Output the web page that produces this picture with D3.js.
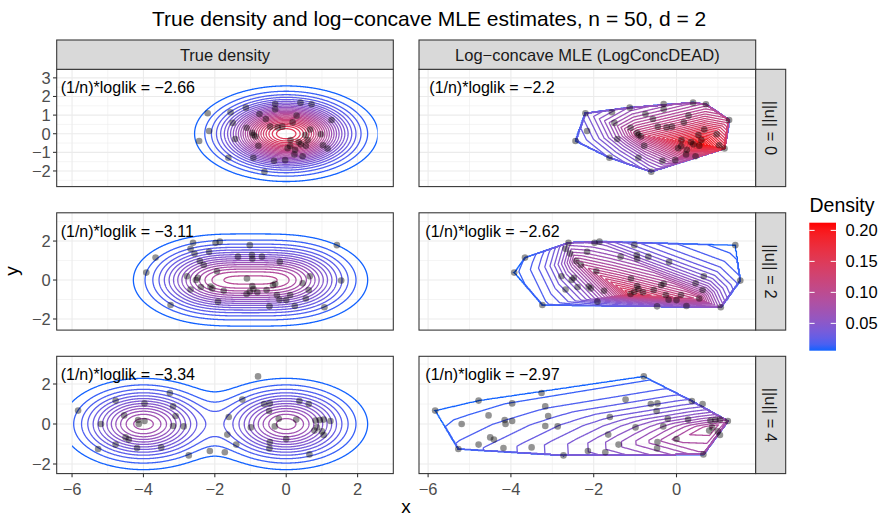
<!DOCTYPE html>
<html><head><meta charset="utf-8">
<script src="https://cdn.jsdelivr.net/npm/d3@7"></script>
<style>body{margin:0;background:#fff}svg{display:block}text{font-family:"Liberation Sans",Arial,sans-serif}</style>
</head><body><svg id="c" width="883" height="516"></svg>
<script>
// ---------------- data ----------------
const chartTitle = "True density and log\u2212concave MLE estimates, n = 50, d = 2";
const colLabels = ["True density", "Log\u2212concave MLE (LogConcDEAD)"];
const rowLabels = ["||u|| = 0", "||u|| = 2", "||u|| = 4"];
const loglikTrue = ["\u22122.66", "\u22123.11", "\u22123.34"];
const loglikMLE = ["\u22122.2", "\u22122.62", "\u22122.97"];
// mixture component means of the true densities (identity covariance, equal weights)
const trueMeans = [[[0,0],[0,0]], [[0,0],[-2,0]], [[0,0],[-4,0]]];

const points0 = [[-2.20,1.10],[-2.16,0.15],[-2.44,-0.39],[-1.62,-1.29],[-1.56,1.15],[-1.13,1.40],[-1.11,0.32],[-1.50,0.58],
 [-1.43,-0.28],[-0.92,-0.07],[-0.86,-0.15],[-0.78,-0.65],[-0.92,-1.29],[-0.75,1.06],[-0.57,0.79],[-0.45,0.38],[-0.31,1.60],
 [-0.31,1.31],[-0.24,0.34],[-0.11,0.38],[0.18,0.61],[0.29,0.97],[0.40,1.67],[0.71,1.58],[1.27,0.74],[0.67,0.23],[0.53,-0.07],
 [0.60,-0.34],[0.55,-0.64],[0.41,-0.57],[0.97,-0.03],[1.03,-0.62],[1.16,-0.79],[0.11,-0.66],[0.25,-0.86],[0.23,-1.11],[0.46,-1.21],
 [-0.03,-1.42],[-0.34,-1.45],[-0.61,-2.04],[0.04,-0.78],[0.12,-0.34],[0.35,-0.45],[-0.95,0.05]];
const points1 = [[-3.92,0.38],[-3.66,1.15],[-3.24,-1.28],[-2.61,1.91],[-2.68,1.60],[-2.57,1.36],[-2.42,0.97],[-2.31,0.77],
 [-2.16,1.45],[-1.98,1.91],[-1.86,1.97],[-1.94,0.45],[-2.78,0.19],[-2.48,0.12],[-2.53,0.0],[-2.68,-0.49],[-2.39,-0.36],[-2.12,-0.33],
 [-2.07,-0.43],[-1.75,-0.55],[-1.91,-1.11],[-1.02,1.79],[-1.35,1.20],[-0.96,1.28],[-0.95,1.09],[-0.68,1.20],[-0.18,0.93],
 [-1.10,0.08],[-0.95,-0.31],[-0.92,-0.46],[-1.11,-0.72],[-1.02,-0.60],[-0.81,-0.63],[-0.55,-0.51],[-0.37,-0.27],[-0.31,-0.19],
 [-0.26,-0.77],[-0.19,-1.01],[0.00,-1.03],[0.11,-0.77],[-0.47,-1.35],[0.24,-1.33],[0.55,-0.95],[0.66,0.19],[0.46,-0.17],
 [0.63,-0.51],[1.42,1.79],[1.54,-0.03],[1.07,-1.40]];
const points2 = [[-5.83,0.67],[-5.27,-1.25],[-5.19,0.00],[-4.78,1.17],[-4.78,-1.03],[-4.50,-0.67],[-4.41,-0.78],[-4.18,-1.20],
 [-4.54,0.43],[-4.13,0.00],[-3.97,1.03],[-4.15,0.20],[-3.97,0.15],[-3.50,-1.17],[-3.26,1.55],[-3.17,0.88],[-3.10,0.40],[-3.17,-0.10],
 [-2.87,-0.12],[-2.73,-1.57],[-2.14,-1.35],[-1.72,-1.41],[-1.65,-0.53],[-1.61,0.35],[-1.40,-1.03],[-1.23,1.22],[-0.79,2.38],
 [-0.62,1.00],[-0.46,1.03],[-0.48,0.65],[-0.99,-0.17],[-0.32,-0.12],[-0.21,0.26],[0.00,-0.75],[-0.47,-1.22],[-0.46,-0.90],
 [0.28,0.22],[0.37,1.15],[0.63,1.00],[0.65,-1.52],[0.82,0.17],[0.86,-0.17],[0.94,0.20],[1.05,0.22],[1.24,0.15],[1.00,-0.37],
 [0.79,-0.33],[1.05,-0.55]];

// log-concave MLE read as tent poles: [x, y, density]
const mlePoles0 = [[-2.20,1.10,0.040],[-2.44,-0.39,0.022],[-1.62,-1.29,0.030],[-0.61,-2.04,0.045],[1.16,-0.79,0.170],
 [1.27,0.74,0.110],[0.71,1.58,0.085],[0.40,1.67,0.075],[-1.13,1.40,0.060],[0.62,-0.55,0.212],[-0.90,-0.05,0.120]];
const mlePoles1 = [[-3.92,0.38,0.010],[-3.66,1.15,0.012],[-2.61,1.91,0.055],[-1.86,1.97,0.050],[1.42,1.79,0.008],
 [1.54,-0.03,0.020],[1.07,-1.40,0.060],[0.24,-1.33,0.050],[-0.47,-1.35,0.045],[-3.24,-1.28,0.015],
 [-2.42,0.97,0.090],[-1.11,-0.72,0.150],[0.55,-0.95,0.110]];
const mlePoles2 = [[-5.83,0.67,0.008],[-4.78,1.17,0.009],[-0.79,2.38,0.010],[0.37,1.15,0.030],[1.24,0.15,0.080],
 [0.65,-1.52,0.075],[-2.73,-1.57,0.040],[-5.27,-1.25,0.020],[-5.19,0.0,0.014],[-3.10,0.40,0.022],[-1.61,0.35,0.032],
 [0.28,0.22,0.050],[0.86,-0.17,0.095],[0.00,-0.75,0.085],[-1.40,-1.03,0.055]];

const pointsByRow = [points0, points1, points2];
const mlePoles = [mlePoles0, mlePoles1, mlePoles2];

const contourStep = 0.0059;          // contour bin width
const colorDomain = [0.0059, 0.2124];
const legendTicks = [0.05, 0.10, 0.15, 0.20];
const xMajor = [[-6,-4,-2,0,2], [-6,-4,-2,0]];
const xMinor = [[-5,-3,-1,1], [-5,-3,-1,1]];
const yMajor = [[-2,-1,0,1,2,3], [-2,0,2], [-2,0,2]];
const yMinor = [[-2.5,-1.5,-0.5,0.5,1.5,2.5], [-1,1,3], [-1,1,3]];

// ---------------- layout ----------------
const colX = [[56.7,393.3],[419,755.7]];
const rowTop = [69.3, 212.8, 356.3], PH = 117.3;
const xDomains = [[-6.43,3.0],[-6.22,1.913]];
const yDomains = [[-2.84,3.46],[-2.57,3.45],[-2.48,3.385]];
const trueGridX = [-6, 2.56];

const svg = d3.select("#c");
const fmt = v => (v < 0 ? "\u2212" + Math.abs(v) : String(v));
const levels = d3.range(1, 37).map(k => k * contourStep);
const color = d3.scaleLinear().domain(colorDomain).range(["#1262ff", "#ff0000"]).interpolate(d3.interpolateLab).clamp(true);
const defs = svg.append("defs");

svg.append("text").attr("x", 152).attr("y", 26).attr("font-size", 21).text(chartTitle);

function trueDensity(means, x, y) {
  let s = 0;
  for (const m of means) { const dx = x - m[0], dy = y - m[1]; s += Math.exp(-0.5 * (dx*dx + dy*dy)); }
  return s / means.length / (2 * Math.PI);
}

function tentGrid(poles, x0, y0, d, nx, ny) {
  const tris = [];
  const n = poles.length;
  for (let a = 0; a < n; a++) for (let b = a+1; b < n; b++) for (let c = b+1; c < n; c++) {
    const A = poles[a], B = poles[b], C = poles[c];
    const v0x = B[0]-A[0], v0y = B[1]-A[1], v1x = C[0]-A[0], v1y = C[1]-A[1];
    const det = v0x*v1y - v0y*v1x;
    if (Math.abs(det) < 1e-9) continue;
    tris.push([A[0], A[1], v0x, v0y, v1x, v1y, det, Math.log(A[2]), Math.log(B[2]), Math.log(C[2])]);
  }
  const vals = new Float64Array(nx*ny);
  for (let j = 0; j < ny; j++) for (let i = 0; i < nx; i++) {
    const x = x0 + i*d, y = y0 + j*d;
    let best = -Infinity;
    for (const t of tris) {
      const v2x = x - t[0], v2y = y - t[1];
      const u = (v2x*t[5] - v2y*t[4]) / t[6];
      if (u < -1e-9) continue;
      const v = (t[2]*v2y - t[3]*v2x) / t[6];
      if (v < -1e-9 || u + v > 1 + 1e-9) continue;
      const h = (1-u-v)*t[7] + u*t[8] + v*t[9];
      if (h > best) best = h;
    }
    vals[j*nx + i] = best === -Infinity ? 0 : Math.exp(best);
  }
  return vals;
}

function drawContours(g, vals, nx, ny, x0, y0, d, xs, ys) {
  const proj = d3.geoTransform({ point(px, py) { this.stream.point(xs(x0 + (px-0.5)*d), ys(y0 + (py-0.5)*d)); } });
  const path = d3.geoPath(proj);
  const cs = d3.contours().size([nx, ny]).thresholds(levels)(vals);
  g.selectAll("path.ct").data(cs.filter(c => c.coordinates.length)).join("path")
    .attr("class", "ct").attr("d", path).attr("fill", "none")
    .attr("stroke", c => color(c.value)).attr("stroke-width", 1.3);
}

for (let r = 0; r < 3; r++) {
  const ys = d3.scaleLinear().domain(yDomains[r]).range([rowTop[r] + PH, rowTop[r]]);
  for (let c = 0; c < 2; c++) {
    const xs = d3.scaleLinear().domain(xDomains[c]).range(colX[c]);
    const px0 = colX[c][0], pw = colX[c][1] - colX[c][0];
    const g = svg.append("g");
    g.append("rect").attr("x", px0).attr("y", rowTop[r]).attr("width", pw).attr("height", PH).attr("fill", "#fff");
    const gl = g.append("g").attr("stroke", "#EBEBEB");
    xMinor[c].forEach(v => gl.append("line").attr("x1", xs(v)).attr("x2", xs(v)).attr("y1", rowTop[r]).attr("y2", rowTop[r]+PH).attr("stroke-width", 0.55));
    yMinor[r].forEach(v => gl.append("line").attr("y1", ys(v)).attr("y2", ys(v)).attr("x1", px0).attr("x2", px0+pw).attr("stroke-width", 0.55));
    xMajor[c].forEach(v => gl.append("line").attr("x1", xs(v)).attr("x2", xs(v)).attr("y1", rowTop[r]).attr("y2", rowTop[r]+PH).attr("stroke-width", 1.1));
    yMajor[r].forEach(v => gl.append("line").attr("y1", ys(v)).attr("y2", ys(v)).attr("x1", px0).attr("x2", px0+pw).attr("stroke-width", 1.1));

    const clipId = `clip${r}${c}`;
    const cl = defs.append("clipPath").attr("id", clipId).append("rect");
    if (c === 0) {
      const cx0 = Math.max(px0, xs(trueGridX[0])), cx1 = Math.min(px0+pw, xs(trueGridX[1]));
      cl.attr("x", cx0).attr("y", rowTop[r]).attr("width", cx1 - cx0).attr("height", PH);
    } else {
      cl.attr("x", px0).attr("y", rowTop[r]).attr("width", pw).attr("height", PH);
    }
    const gc = g.append("g").attr("clip-path", `url(#${clipId})`);

    if (c === 0) {
      const d = 0.02, x0 = trueGridX[0] - 0.2, y0 = -3.4;
      const nx = Math.round((trueGridX[1] + 0.2 - x0) / d) + 1, ny = Math.round((3.4 - y0) / d) + 1;
      const vals = new Float64Array(nx*ny);
      for (let j = 0; j < ny; j++) for (let i = 0; i < nx; i++) vals[j*nx+i] = trueDensity(trueMeans[r], x0 + i*d, y0 + j*d);
      drawContours(gc, vals, nx, ny, x0, y0, d, xs, ys);
    } else {
      const poles = mlePoles[r];
      const d = 0.02;
      const x0 = d3.min(poles, p => p[0]) - 3*d, x1 = d3.max(poles, p => p[0]) + 3*d;
      const y0 = d3.min(poles, p => p[1]) - 3*d, y1 = d3.max(poles, p => p[1]) + 3*d;
      const nx = Math.round((x1 - x0)/d) + 1, ny = Math.round((y1 - y0)/d) + 1;
      const vals = tentGrid(poles, x0, y0, d, nx, ny);
      drawContours(gc, vals, nx, ny, x0, y0, d, xs, ys);
    }
    g.append("g").selectAll("circle").data(pointsByRow[r]).join("circle")
      .attr("cx", p => xs(p[0])).attr("cy", p => ys(p[1])).attr("r", 3.3)
      .attr("fill", "#000").attr("fill-opacity", 0.42);

    g.append("text").attr("x", px0 + (c === 0 ? 4 : (r === 0 ? 10.3 : 6.3))).attr("y", rowTop[r] + 24)
      .attr("font-size", 16).attr("fill", "#000")
      .text("(1/n)*loglik = " + (c === 0 ? loglikTrue[r] : loglikMLE[r]));
    g.append("rect").attr("x", px0).attr("y", rowTop[r]).attr("width", pw).attr("height", PH)
      .attr("fill", "none").attr("stroke", "#333").attr("stroke-width", 1.07);

    if (c === 0) {
      yMajor[r].forEach(v => {
        svg.append("line").attr("x1", px0 - 3.7).attr("x2", px0).attr("y1", ys(v)).attr("y2", ys(v)).attr("stroke", "#333").attr("stroke-width", 1.07);
        svg.append("text").attr("x", px0 - 5.9).attr("y", ys(v)).attr("dy", "0.36em").attr("text-anchor", "end")
          .attr("font-size", 16.5).attr("fill", "#4D4D4D").text(fmt(v));
      });
    }
    if (r === 2) {
      const yb = rowTop[r] + PH;
      xMajor[c].forEach(v => {
        svg.append("line").attr("x1", xs(v)).attr("x2", xs(v)).attr("y1", yb).attr("y2", yb + 3.7).attr("stroke", "#333").attr("stroke-width", 1.07);
        svg.append("text").attr("x", xs(v)).attr("y", yb + 21.5).attr("text-anchor", "middle")
          .attr("font-size", 16.5).attr("fill", "#4D4D4D").text(fmt(v));
      });
    }
  }
  // right strip
  svg.append("rect").attr("x", 755.7).attr("y", rowTop[r]).attr("width", 30).attr("height", PH)
    .attr("fill", "#D9D9D9").attr("stroke", "#333").attr("stroke-width", 1.07);
  svg.append("text").attr("transform", `translate(${770.7},${rowTop[r] + PH/2}) rotate(90)`)
    .attr("text-anchor", "middle").attr("dy", "0.36em").attr("font-size", 16.5).attr("fill", "#1A1A1A").text(rowLabels[r]);
}
// top strips
for (let c = 0; c < 2; c++) {
  svg.append("rect").attr("x", colX[c][0]).attr("y", 40).attr("width", colX[c][1] - colX[c][0]).attr("height", 29.3)
    .attr("fill", "#D9D9D9").attr("stroke", "#333").attr("stroke-width", 1.07);
  svg.append("text").attr("x", (colX[c][0] + colX[c][1]) / 2).attr("y", 54.7).attr("dy", "0.36em")
    .attr("text-anchor", "middle").attr("font-size", 16.5).attr("fill", "#1A1A1A").text(colLabels[c]);
}
// axis titles
svg.append("text").attr("x", 406).attr("y", 513).attr("text-anchor", "middle").attr("font-size", 19).text("x");
svg.append("text").attr("transform", "translate(18,271) rotate(-90)").attr("text-anchor", "middle").attr("font-size", 19).text("y");

// legend
const lg = defs.append("linearGradient").attr("id", "lg").attr("x1", 0).attr("y1", 1).attr("x2", 0).attr("y2", 0);
d3.range(0, 1.0001, 0.05).forEach(t => lg.append("stop").attr("offset", t)
  .attr("stop-color", color(colorDomain[0] + t * (colorDomain[1] - colorDomain[0]))));
const ly = d3.scaleLinear().domain(colorDomain).range([350.7, 222.7]);
svg.append("text").attr("x", 809.5).attr("y", 211.5).attr("font-size", 19.5).text("Density");
svg.append("rect").attr("x", 809.3).attr("y", 222.7).attr("width", 26.7).attr("height", 128).attr("fill", "url(#lg)");
legendTicks.forEach(v => {
  svg.append("line").attr("x1", 809.3).attr("x2", 814.6).attr("y1", ly(v)).attr("y2", ly(v)).attr("stroke", "#fff").attr("stroke-width", 1);
  svg.append("line").attr("x1", 830.7).attr("x2", 836).attr("y1", ly(v)).attr("y2", ly(v)).attr("stroke", "#fff").attr("stroke-width", 1);
  svg.append("text").attr("x", 845.5).attr("y", ly(v)).attr("dy", "0.36em").attr("font-size", 16.5).attr("fill", "#000").text(v.toFixed(2));
});
</script></body></html>
